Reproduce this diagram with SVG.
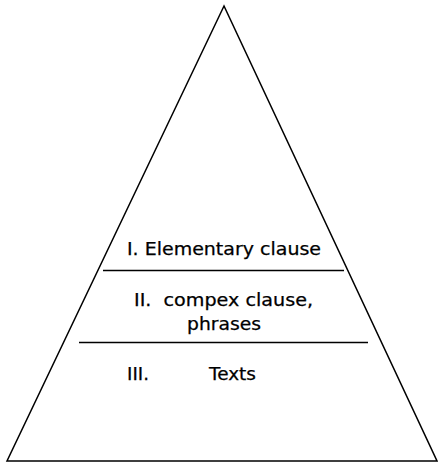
<svg xmlns="http://www.w3.org/2000/svg" width="438" height="465" viewBox="0 0 438 465">
<style>
.s{fill:none;stroke:#000;stroke-width:1.5}
.t{font-family:"DejaVu Sans","Liberation Sans",Arial,sans-serif;font-size:17px;fill:#000;stroke:#000;stroke-width:0.25}
</style>
<rect width="438" height="465" fill="#fff"/>
<g id="pyramid">
<polygon class="s" points="224,6 7,461 437,461"/>
</g>
<g id="connectors">
<line class="s" x1="103" y1="270.5" x2="344" y2="270.5"/>
<line class="s" x1="79" y1="342.5" x2="368" y2="342.5"/>
</g>
<g id="level1">
<text class="t" x="127" y="255" textLength="194" lengthAdjust="spacingAndGlyphs">I. Elementary clause</text>
</g>
<g id="level2">
<text class="t" x="134" y="306" textLength="179" lengthAdjust="spacingAndGlyphs" xml:space="preserve">II.  compex clause,</text>
<text class="t" x="187" y="330" textLength="74" lengthAdjust="spacingAndGlyphs">phrases</text>
</g>
<g id="level3">
<text class="t" x="127" y="380" textLength="22" lengthAdjust="spacingAndGlyphs">III.</text>
<text class="t" x="209" y="380" textLength="47" lengthAdjust="spacingAndGlyphs">Texts</text>
</g>
</svg>
